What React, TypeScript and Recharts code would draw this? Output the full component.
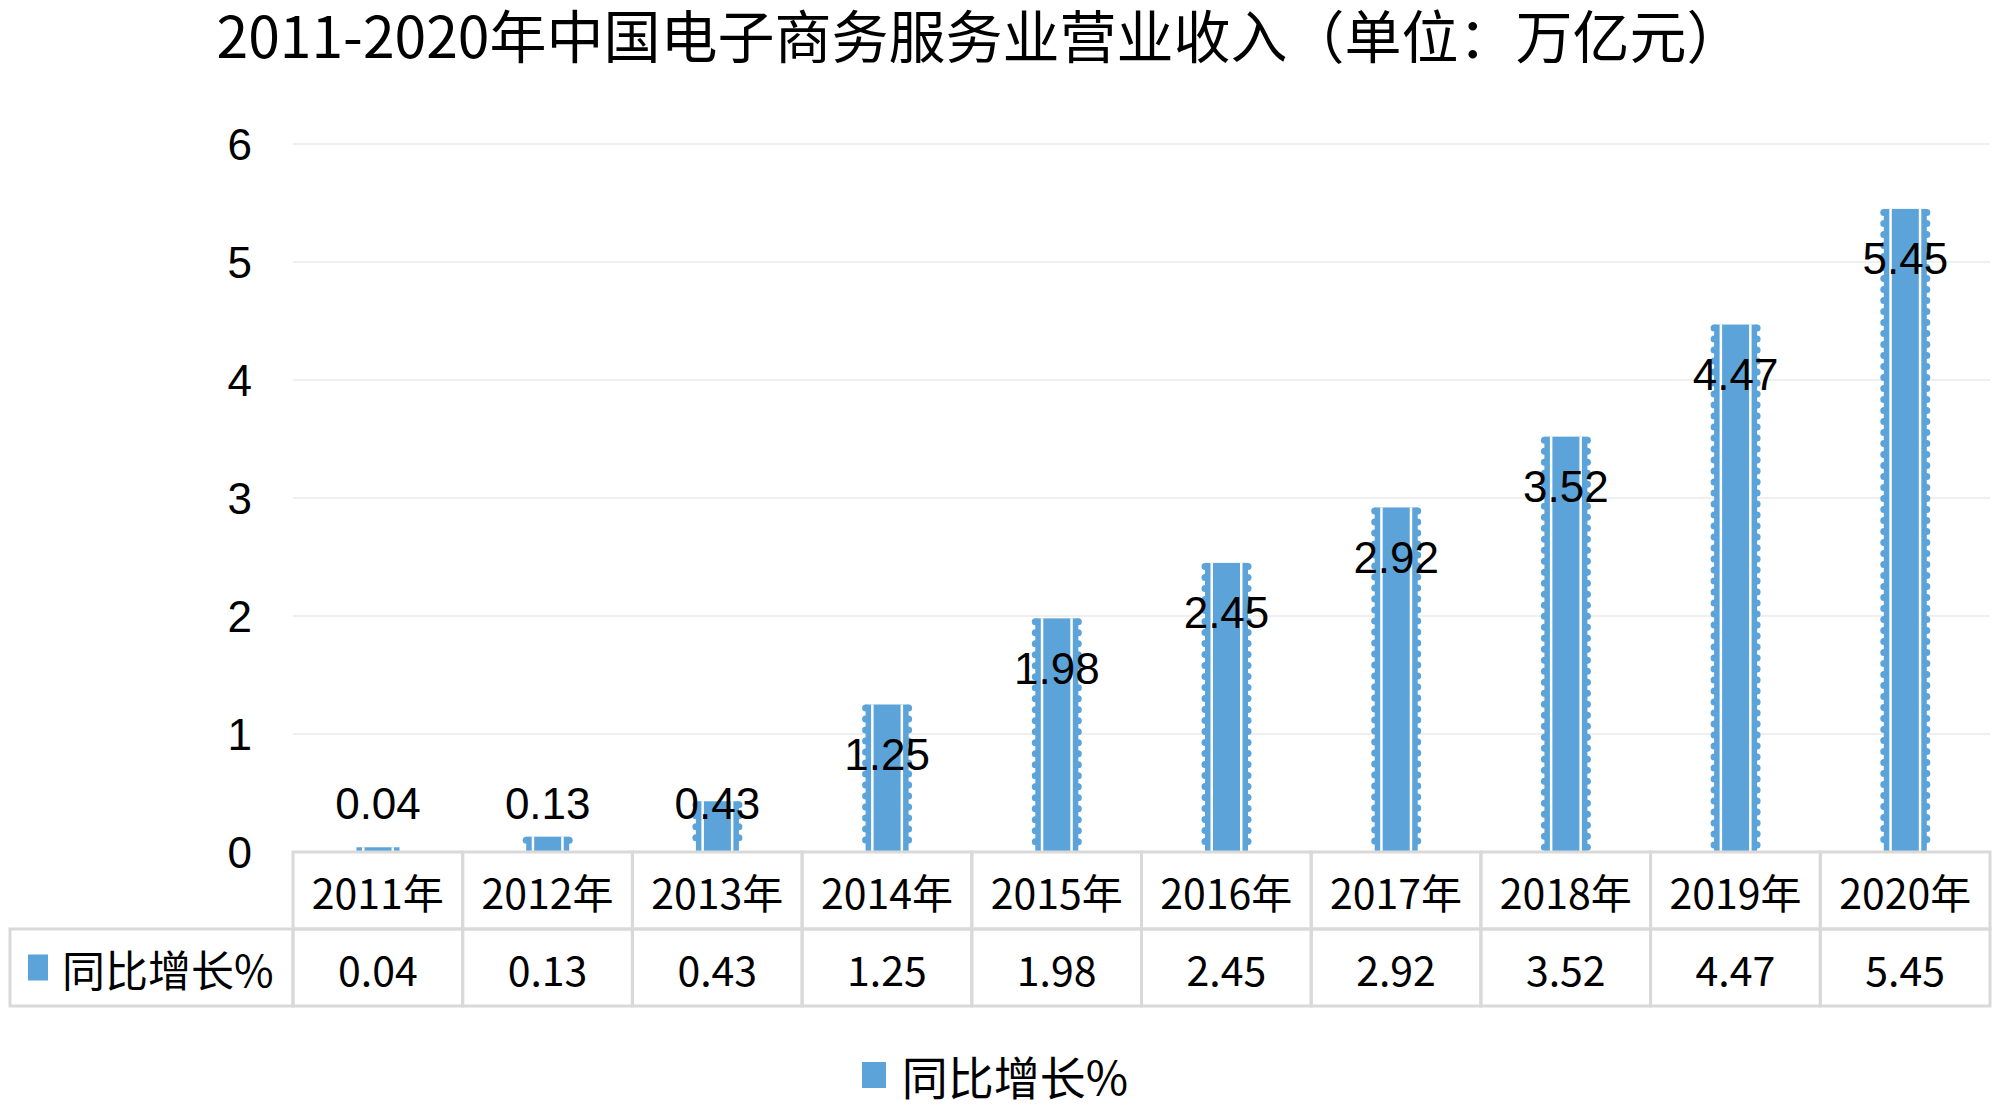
import React from 'react';
import { BarChart, Bar, XAxis, YAxis, CartesianGrid, LabelList, Legend } from 'recharts';

// values (万亿元)
const years = ['2011年', '2012年', '2013年', '2014年', '2015年', '2016年', '2017年', '2018年', '2019年', '2020年'];
const revenue = [0.04, 0.13, 0.43, 1.25, 1.98, 2.45, 2.92, 3.52, 4.47, 5.45];
const yTicks = [0, 1, 2, 3, 4, 5, 6];
const seriesName = '同比增长%';
const chartTitle = '2011-2020年中国电子商务服务业营业收入（单位：万亿元）';

const data = years.map((year, i) => ({ year, value: revenue[i] }));

const W = 2000;
const H = 1105;
const PLOT_LEFT = 293;
const PLOT_RIGHT = 1990;
const PLOT_BOTTOM = 852;
const ROW_H = 77;
const BAND = (PLOT_RIGHT - PLOT_LEFT) / years.length;
const BLUE = '#5BA3D9';
const TABLE_LINE = '#D9D9D9';
const CJK = '"Noto Sans CJK SC", "Noto Sans", sans-serif';
const LATIN = '"Liberation Sans", Arial, sans-serif';

const WavyBar = (props: any) => {
  const { x, y, width, height, fill } = props;
  if (!height || height <= 0) return null;
  const r = 3.5;
  const bumps: React.ReactNode[] = [];
  for (let cy = y + r; cy + r <= y + height; cy += 11) {
    bumps.push(<circle key={'l' + cy} cx={x + r} cy={cy} r={r} fill={fill} />);
    bumps.push(<circle key={'r' + cy} cx={x + width - r} cy={cy} r={r} fill={fill} />);
  }
  return (
    <g>
      <rect x={x + r} y={y} width={width - 2 * r} height={height} fill={fill} />
      {bumps}
      <rect x={x + 9} y={y} width={2.5} height={height} fill="#fff" />
      <rect x={x + width - 11.5} y={y} width={2.5} height={height} fill="#fff" />
    </g>
  );
};

const renderLabel = (props: any) => {
  const { x, y, width, height, value } = props;
  const base = y + height;
  const ty = Math.min(y + 50, base - 49);
  return (
    <text x={x + width / 2} y={ty} textAnchor="middle" dominantBaseline="central" fontSize={44} fontFamily={LATIN} fill="#000">
      {value}
    </text>
  );
};

const YTick = (props: any) => {
  const { y, payload } = props;
  return (
    <text x={252} y={y} textAnchor="end" dominantBaseline="central" fontSize={44} fontFamily={LATIN} fill="#000">
      {payload.value}
    </text>
  );
};

// x axis ticks double as the data table underneath the plot
const TableTick = (props: any) => {
  const { x, payload } = props;
  const i = years.indexOf(payload.value);
  const left = x - BAND / 2;
  return (
    <g>
      {i === 0 && (
        <g>
          <rect x={10} y={PLOT_BOTTOM + ROW_H} width={PLOT_LEFT - 10} height={ROW_H} fill="none" stroke={TABLE_LINE} strokeWidth={3} />
          <rect x={28} y={PLOT_BOTTOM + ROW_H * 1.5 - 13} width={20} height={26} fill={BLUE} />
          <text x={62} y={PLOT_BOTTOM + ROW_H * 1.5} dominantBaseline="central" fontSize={43} fontFamily={CJK} fill="#000">
            {seriesName}
          </text>
        </g>
      )}
      <rect x={left} y={PLOT_BOTTOM} width={BAND} height={ROW_H} fill="none" stroke={TABLE_LINE} strokeWidth={3} />
      <rect x={left} y={PLOT_BOTTOM + ROW_H} width={BAND} height={ROW_H} fill="none" stroke={TABLE_LINE} strokeWidth={3} />
      <text x={x} y={PLOT_BOTTOM + ROW_H / 2} textAnchor="middle" dominantBaseline="central" fontSize={41} fontFamily={CJK} fill="#000">
        {payload.value}
      </text>
      <text x={x} y={PLOT_BOTTOM + ROW_H * 1.5} textAnchor="middle" dominantBaseline="central" fontSize={41} fontFamily={CJK} fill="#000">
        {revenue[i]}
      </text>
    </g>
  );
};

const LegendContent = () => (
  <div style={{ height: 60, display: 'flex', alignItems: 'center', justifyContent: 'center' }}>
    <span style={{ display: 'inline-block', width: 24, height: 26, background: BLUE, marginRight: 16 }} />
    <span style={{ fontSize: 46, fontFamily: CJK, lineHeight: '60px', color: '#000' }}>{seriesName}</span>
  </div>
);

export default function App() {
  return (
    <div style={{ position: 'absolute', left: 0, top: 0, width: W, height: H, background: '#fff' }}>
      <div
        style={{
          position: 'absolute',
          top: 0,
          left: 0,
          width: 1960,
          textAlign: 'center',
          fontSize: 57,
          lineHeight: '66px',
          fontFamily: CJK,
          color: '#000',
        }}
      >
        {chartTitle}
      </div>
      <BarChart width={W} height={H} data={data} margin={{ top: 144, right: W - PLOT_RIGHT, left: 0, bottom: 0 }}>
        <CartesianGrid vertical={false} stroke="#EFEFEF" strokeWidth={2} />
        <XAxis dataKey="year" axisLine={false} tickLine={false} height={193} interval={0} tick={<TableTick />} />
        <YAxis
          width={PLOT_LEFT}
          domain={[0, 6]}
          ticks={yTicks}
          axisLine={false}
          tickLine={false}
          tick={<YTick />}
        />
        <Legend verticalAlign="bottom" content={() => <LegendContent />} />
        <Bar dataKey="value" name={seriesName} fill={BLUE} barSize={50} shape={<WavyBar />} isAnimationActive={false}>
          <LabelList dataKey="value" content={renderLabel} />
        </Bar>
      </BarChart>
    </div>
  );
}
